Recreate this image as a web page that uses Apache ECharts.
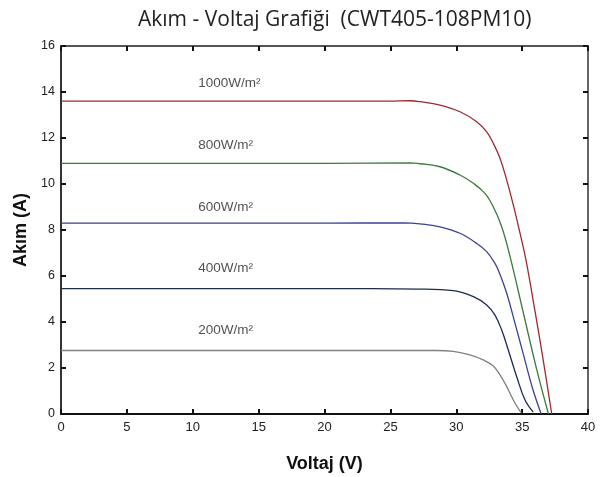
<!DOCTYPE html>
<html>
<head>
<meta charset="utf-8">
<script src="https://cdn.jsdelivr.net/npm/echarts@6/dist/echarts.min.js"></script>
<style>html,body{margin:0;padding:0;background:#fff}#c{width:607px;height:477px}</style>
</head>
<body>
<div id="c"></div>
<script>
var xTicks = [0, 5, 10, 15, 20, 25, 30, 35, 40];
var yTicks = [0, 2, 4, 6, 8, 10, 12, 14, 16];
var seriesNames = ['1000W/m²', '800W/m²', '600W/m²', '400W/m²', '200W/m²'];
var curve1000 = [[0,13.6],[10,13.6],[20,13.6],[25,13.6],[26.5,13.62],[27.25,13.58],[28.77,13.43],[30.28,13.14],[31.55,12.71],[32.31,12.27],[32.81,11.77],[33.32,11.12],[33.83,10.17],[34.33,9.09],[34.84,7.86],[35.29,6.7],[35.85,4.9],[36.5,2.7],[37.25,0]];
var curve800 = [[0,10.9],[10,10.9],[20,10.9],[26.5,10.92],[27.25,10.88],[28.77,10.75],[30.28,10.39],[31.3,10.03],[32.18,9.59],[32.81,9.01],[33.45,8.14],[34.08,6.85],[35.1,4.38],[36.1,1.95],[37.0,0]];
var curve600 = [[0,8.3],[10,8.3],[20,8.3],[26,8.31],[27.25,8.27],[28.77,8.14],[30.28,7.86],[31.55,7.42],[32.31,7.06],[32.94,6.55],[33.3,6.1],[33.83,5.25],[34.46,3.94],[35.09,2.6],[35.8,1.1],[36.45,0]];
var curve400 = [[0,5.45],[10,5.45],[20,5.45],[27.25,5.43],[29.78,5.36],[31.3,5.1],[32.31,4.74],[32.94,4.3],[33.45,3.65],[33.95,2.78],[34.59,1.62],[35.22,0.61],[35.85,0.08]];
var curve200 = [[0,2.76],[10,2.76],[20,2.76],[28.5,2.76],[29.78,2.72],[31.04,2.57],[32.05,2.35],[32.81,2.09],[33.32,1.7],[33.83,1.19],[34.33,0.61],[34.84,0.12],[34.95,0.05]];
var labelPos = [[10.42,14.4],[10.42,11.7],[10.42,9.0],[10.42,6.35],[10.42,3.65]];
var colors = ['#9e2a2e', '#3b7b3d', '#3d4196', '#1d2c52', '#808080'];
var curves = [curve1000, curve800, curve600, curve400, curve200];

var chart = echarts.init(document.getElementById('c'));
var series = curves.map(function (d, i) {
  return {
    type: 'line', name: seriesNames[i], data: d, showSymbol: false,
    smooth: 0.4,
    lineStyle: { color: colors[i], width: 1.3 }, silent: true
  };
});
series.push({
  type: 'scatter', symbolSize: 0, silent: true,
  data: labelPos.map(function (p, i) { return { value: p, name: seriesNames[i] }; }),
  label: { show: true, position: 'right', distance: 0, formatter: '{b}',
           fontFamily: 'Liberation Sans, Arial, sans-serif', fontSize: 13.5, color: '#262626' }
});
var tickStyle = { show: true, inside: true, length: 5, lineStyle: { color: '#111', width: 2 } };
chart.setOption({
  animation: false,
  title: {
    text: 'Akım - Voltaj Grafiği  (CWT405-108PM10)', left: 133, top: 5,
    textStyle: { fontFamily: 'Open Sans', fontSize: 21, fontWeight: 'normal', color: '#222' }
  },
  grid: { left: 61, right: 19, top: 46, bottom: 63, outerBoundsMode: 'none', containLabel: false },
  xAxis: [{
    type: 'value', min: 0, max: 40, interval: 5,
    name: 'Voltaj (V)', nameLocation: 'middle', nameGap: 41,
    nameTextStyle: { fontFamily: 'Liberation Sans, Arial', fontSize: 18, fontWeight: 'bold', color: '#111', verticalAlign: 'top' },
    axisLine: { show: true, onZero: false, lineStyle: { color: '#111', width: 2 } },
    axisTick: tickStyle,
    axisLabel: { margin: 7, fontFamily: 'Liberation Sans, Arial', fontSize: 13, color: '#222' },
    splitLine: { show: false }
  }, {
    type: 'value', position: 'top', min: 0, max: 40, interval: 5,
    axisLine: { show: true, onZero: false, lineStyle: { color: '#555', width: 2 } },
    axisTick: tickStyle, axisLabel: { show: false }, splitLine: { show: false }
  }],
  yAxis: [{
    type: 'value', min: 0, max: 16, interval: 2,
    name: 'Akım (A)', nameLocation: 'middle', nameGap: 25, nameRotate: 90,
    nameTextStyle: { fontFamily: 'Liberation Sans, Arial', fontSize: 18, fontWeight: 'bold', color: '#111' },
    axisLine: { show: true, onZero: false, lineStyle: { color: '#333', width: 2 } },
    axisTick: tickStyle,
    axisLabel: { margin: 6, fontFamily: 'Liberation Sans, Arial', fontSize: 12.5, color: '#222' },
    splitLine: { show: false }
  }, {
    type: 'value', position: 'right', min: 0, max: 16, interval: 2,
    axisLine: { show: true, onZero: false, lineStyle: { color: '#666', width: 2 } },
    axisTick: tickStyle, axisLabel: { show: false }, splitLine: { show: false }
  }],
  series: series
});
</script>
</body>
</html>
